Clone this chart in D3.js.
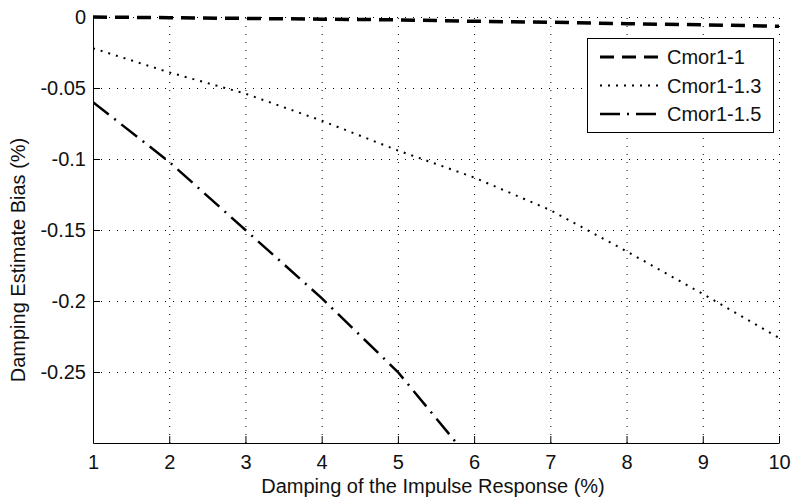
<!DOCTYPE html>
<html>
<head>
<meta charset="utf-8">
<script src="https://cdn.jsdelivr.net/npm/d3@7"></script>
<style>
  body { margin: 0; background: #fff; }
  text { font-family: "Liberation Sans", Arial, sans-serif; font-size: 20px; fill: #111; }
</style>
</head>
<body>
<div id="chart"></div>
<script>
// Damping estimate bias vs damping

// Data
var damping = [1, 2, 3, 4, 5, 6, 7, 8, 9, 10];
var cmor1_1 = [0, -0.0005, -0.001, -0.0015, -0.002, -0.003, -0.0037, -0.0047, -0.0055, -0.0065];
var cmor1_13 = [-0.022, -0.039, -0.054, -0.073, -0.094, -0.113, -0.136, -0.165, -0.195, -0.226];
var cmor1_15 = [-0.06, -0.102, -0.15, -0.198, -0.25, -0.315, -0.365, -0.415, -0.465, -0.515];
var seriesNames = ["Cmor1-1", "Cmor1-1.3", "Cmor1-1.5"];
var xTicks = [1, 2, 3, 4, 5, 6, 7, 8, 9, 10];
var yTicks = [0, -0.05, -0.1, -0.15, -0.2, -0.25];
var yTickLabels = ["0", "-0.05", "-0.1", "-0.15", "-0.2", "-0.25"];

// Chart Details
var svgWidth = 793;
var svgHeight = 504;

var margin = { top: 17, right: 14, bottom: 61, left: 93 };

var width = svgWidth - margin.left - margin.right;
var height = svgHeight - margin.top - margin.bottom;

var svg = d3.select("#chart").append("svg")
  .attr("width", svgWidth)
  .attr("height", svgHeight);

var chartGroup = svg.append("g")
  .attr("transform", `translate(${margin.left}, ${margin.top})`);

var xScale = d3.scaleLinear().domain([1, 10]).range([0, width]);
var yScale = d3.scaleLinear().domain([-0.3, 0]).range([height, 0]);

// Grid lines (dotted)
var xGrid = chartGroup.append("g")
  .attr("transform", `translate(0, ${height})`)
  .call(d3.axisBottom(xScale).tickValues(xTicks.slice(1)).tickSize(-height).tickFormat(""));
var yGrid = chartGroup.append("g")
  .call(d3.axisLeft(yScale).tickValues(yTicks).tickSize(-width).tickFormat(""));
[xGrid, yGrid].forEach(function(g) {
  g.select(".domain").remove();
  g.selectAll("line")
    .attr("stroke", "#000")
    .attr("stroke-dasharray", "1,7");
});

// Clip for the lines
svg.append("defs").append("clipPath")
  .attr("id", "plotClip")
  .append("rect")
  .attr("x", 0).attr("y", -3)
  .attr("width", width + 2).attr("height", height + 3);

var lineGen = function(values) {
  return d3.line()
    .x((d, i) => xScale(damping[i]))
    .y(d => yScale(d))(values);
};

var styles = [
  { data: cmor1_1, width: 3.5, dash: "14,8" },
  { data: cmor1_13, width: 2, dash: "2,6" },
  { data: cmor1_15, width: 2.5, dash: "20,7,2,7" }
];

var linesGroup = chartGroup.append("g").attr("clip-path", "url(#plotClip)");
styles.forEach(function(s) {
  linesGroup.append("path")
    .attr("d", lineGen(s.data))
    .attr("fill", "none")
    .attr("stroke", "#000")
    .attr("stroke-width", s.width)
    .attr("stroke-dasharray", s.dash);
});

// Axes with inward ticks
var xAxis = chartGroup.append("g")
  .attr("transform", `translate(0, ${height})`)
  .call(d3.axisBottom(xScale).tickValues(xTicks).tickSizeInner(-7).tickSizeOuter(0).tickPadding(12));
var yAxis = chartGroup.append("g")
  .call(d3.axisLeft(yScale).tickValues(yTicks).tickSizeInner(-7).tickSizeOuter(0).tickPadding(7)
    .tickFormat((d, i) => yTickLabels[i]));
[xAxis, yAxis].forEach(function(g) {
  g.selectAll("text").attr("font-size", null).attr("font-family", null).attr("fill", null);
  g.selectAll("line, path").attr("stroke", "#000");
});

// Axis labels
chartGroup.append("text")
  .attr("x", width / 2 - 3)
  .attr("y", height + 50)
  .attr("text-anchor", "middle")
  .text("Damping of the Impulse Response (%)");

chartGroup.append("text")
  .attr("transform", "rotate(-90)")
  .attr("x", -height / 2 - 30)
  .attr("y", -margin.left + 25)
  .attr("text-anchor", "middle")
  .text("Damping Estimate Bias (%)");

// Legend
var legend = chartGroup.append("g")
  .attr("transform", `translate(${width - 192}, 21)`);

legend.append("rect")
  .attr("x", 0.5).attr("y", 0.5)
  .attr("width", 186).attr("height", 94)
  .attr("fill", "#fff")
  .attr("stroke", "#000");

styles.forEach(function(s, i) {
  var rowY = 19 + i * 28.5;
  legend.append("line")
    .attr("x1", 13).attr("x2", 76)
    .attr("y1", rowY).attr("y2", rowY)
    .attr("stroke", "#000")
    .attr("stroke-width", Math.min(s.width, 3))
    .attr("stroke-dasharray", s.dash);
  legend.append("text")
    .attr("x", 80)
    .attr("y", rowY + 7)
    .text(seriesNames[i]);
});
</script>
</body>
</html>
